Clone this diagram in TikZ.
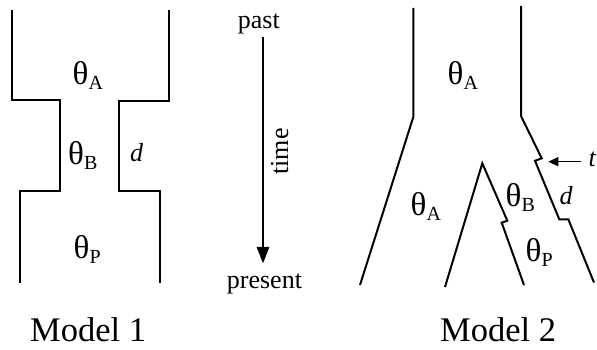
\documentclass[tikz,border=0pt]{standalone}
\usepackage{fontspec}
\setmainfont{Liberation Serif}
\usetikzlibrary{arrows.meta}
\newcommand{\thsub}[1]{{\fontsize{33}{33}\selectfont θ}\raisebox{-5pt}{\fontsize{20}{20}\selectfont #1}}
\begin{document}
\begin{tikzpicture}[x=1pt,y=-1pt,
  wall/.style={line width=2pt, line join=miter},
  lbl/.style={inner sep=0pt, anchor=base west},
  small/.style={lbl, font=\fontsize{26}{26}\selectfont},
  big/.style={lbl, font=\fontsize{34.5}{34.5}\selectfont}]
\useasboundingbox (0,0) rectangle (597,350);
% Model 1
\draw[wall] (11.7,10) -- (11.7,100) -- (60,100) -- (60,191) -- (20,191) -- (20,283);
\draw[wall] (169,10) -- (169,101) -- (119,101) -- (119,191) -- (160,191) -- (160,283);
\node[lbl] (m1a) at (72.5,84.3) {\thsub{A}};
\node[lbl] (m1b) at (68,164.3) {\thsub{B}};
\node[small] (m1d) at (130,161) {\textit{d}};
\node[lbl] (m1p) at (73.5,258.3) {\thsub{P}};
\node[big] (model1) at (30,341.7) {Model 1};
% time arrow
\node[small] (past) at (237.7,28.3) {past};
\node[small] (present) at (226.7,288.3) {present};
\coordinate (tstart) at (263,37);
\coordinate (tend) at (263,263.3);
\draw[line width=1.8pt, -{Triangle[length=16.5pt,width=12.5pt]}] (tstart) -- (tend);
\node[inner sep=0pt, anchor=base, rotate=90, font=\fontsize{26}{26}\selectfont] (time) at (288,151.5) {time};
% Model 2
\draw[wall] (413.3,8) -- (413.3,117) -- (360,285);
\draw[wall] (521,6) -- (521,116) -- (541.7,158.3) -- (535,160.8) -- (559.3,219.3) -- (568.3,219.3) -- (594,282.5);
\draw[wall] (445,287) -- (482.3,163.3) -- (507.3,220.7) -- (501.7,222.7) -- (524,285);
\node[lbl] (m2a) at (447.5,85) {\thsub{A}};
\node[lbl] (m2a2) at (410.5,215) {\thsub{A}};
\node[lbl] (m2b) at (505.5,206) {\thsub{B}};
\node[small] (m2d) at (559.3,204) {\textit{d}};
\node[lbl] (m2p) at (525.5,261.7) {\thsub{P}};
\node[small] (tlab) at (588.5,166.7) {\textit{t}};
\coordinate (tarr) at (548.3,161.7);
\draw[line width=1.5pt, -{Triangle[length=10pt,width=9pt]}] (tlab.west |- 0,161.7) ++(-8,0) -- (tarr);
\node[big] (model2) at (440,341.7) {Model 2};
\end{tikzpicture}
\end{document}
